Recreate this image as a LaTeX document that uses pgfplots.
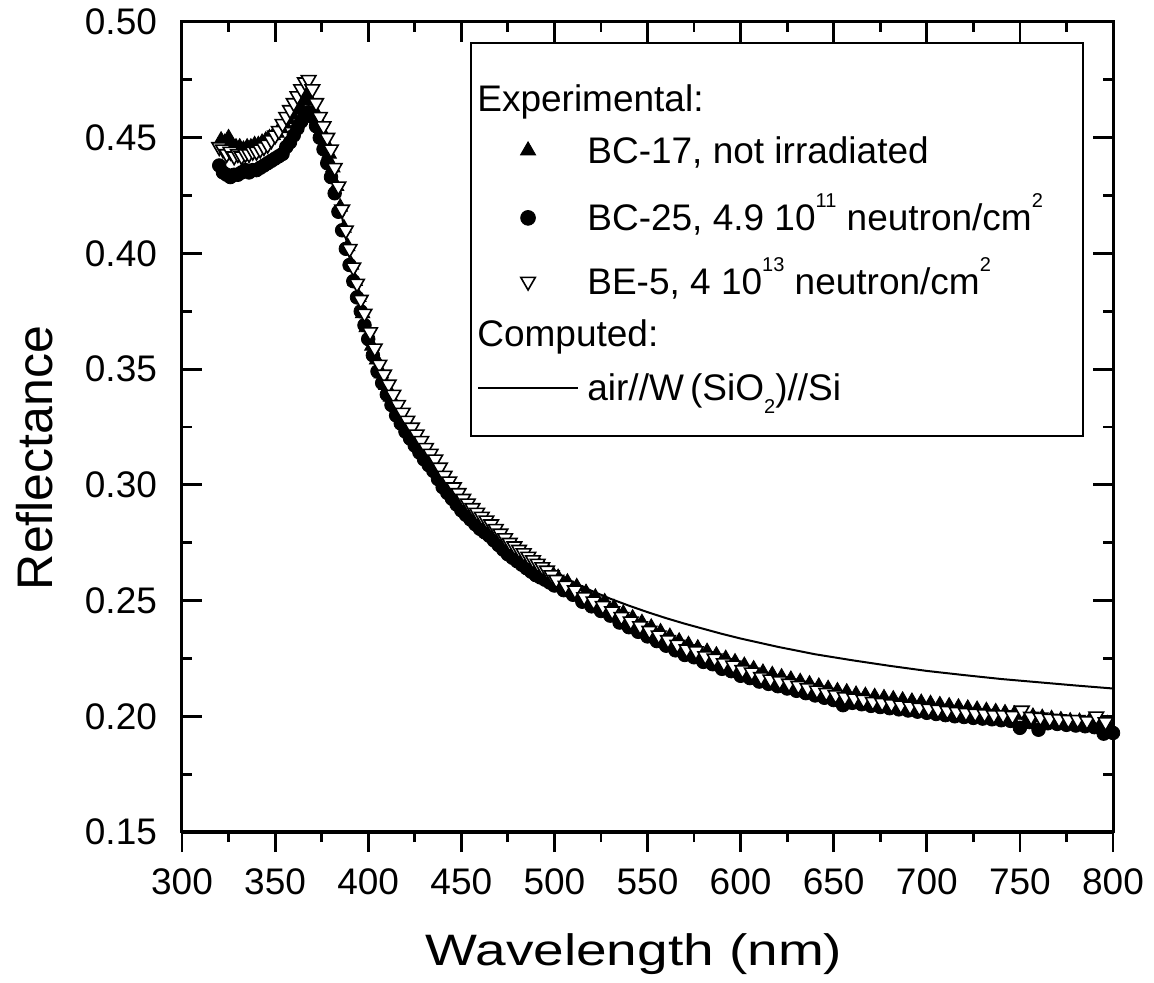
\documentclass[border=0pt]{standalone}
\usepackage{fontspec}
\setmainfont{Liberation Sans}
\usepackage{pgfplots}
\pgfplotsset{compat=1.18}
\usepackage{pgfplotstable}

% BC-25, 4.9e11 neutron/cm2 (filled circles)
\pgfplotstableread{
x y
320 0.438
322 0.435
324 0.434
326 0.433
328 0.434
330 0.434
332 0.435
334 0.436
336 0.435
338 0.436
340 0.436
342 0.437
344 0.438
346 0.439
348 0.440
350 0.441
352 0.442
354 0.443
356 0.446
358 0.448
360 0.451
362 0.454
364 0.457
366 0.460
368 0.461
370 0.459
372 0.455
374 0.450
376 0.445
378 0.439
380 0.433
382 0.426
384 0.418
386 0.410
388 0.402
390 0.395
392 0.388
394 0.381
396 0.375
398 0.369
400 0.363
402.5 0.356
405 0.349
407.5 0.344
410 0.339
412.5 0.3345
415 0.330
417.5 0.3265
420 0.323
422.5 0.320
425 0.317
427.5 0.314
430 0.311
432.5 0.3085
435 0.306
437.5 0.3025
440 0.299
442.5 0.2965
445 0.294
447.5 0.2915
450 0.289
452.5 0.287
455 0.285
457.5 0.283
460 0.281
462.5 0.2795
465 0.278
467.5 0.276
470 0.274
472.5 0.272
475 0.270
477.5 0.2685
480 0.267
482.5 0.2655
485 0.264
487.5 0.2625
490 0.261
492.5 0.260
495 0.259
497.5 0.2578
500 0.2565
505 0.2545
510 0.2525
515 0.2495
520 0.2475
525 0.2455
530 0.2435
535 0.2405
540 0.2385
545 0.2365
550 0.2345
555 0.2325
560 0.2305
565 0.2285
570 0.2265
575 0.2255
580 0.2235
585 0.2225
590 0.2205
595 0.2195
600 0.2175
605 0.2165
610 0.2150
615 0.2140
620 0.2130
625 0.2120
630 0.2110
635 0.2100
640 0.2090
645 0.2080
650 0.2070
655 0.2048
660 0.2058
665 0.2052
670 0.2045
675 0.2040
680 0.2035
685 0.2030
690 0.2025
695 0.2020
700 0.2015
705 0.2010
710 0.2005
715 0.2000
720 0.1997
725 0.1993
730 0.1990
735 0.1987
740 0.1983
745 0.1980
750 0.1950
755 0.1975
760 0.1942
765 0.1970
770 0.1967
775 0.1963
780 0.1960
785 0.1957
790 0.1953
795 0.1925
800 0.1928
}\bctwentyfive

% BC-17, not irradiated (filled triangles)
\pgfplotstableread{
x y
321 0.449
323 0.448
325 0.450
327 0.447
329 0.446
331 0.446
333 0.445
335 0.446
337 0.446
339 0.447
341 0.447
343 0.448
345 0.449
347 0.450
349 0.451
351 0.452
353 0.454
355 0.456
357 0.458
359 0.460
361 0.462
363 0.464
365 0.466
367 0.468
369 0.466
371 0.462
373 0.458
375 0.453
377 0.448
379 0.443
381 0.437
383 0.429
385 0.420
387 0.411
389 0.403
391 0.395
393 0.388
395 0.381
397 0.374
399 0.368
402 0.360
404.5 0.354
407 0.348
409.5 0.343
412 0.338
414.5 0.3345
417 0.331
419.5 0.3275
422 0.324
424.5 0.321
427 0.318
429.5 0.3155
432 0.313
434.5 0.310
437 0.307
439.5 0.304
442 0.301
444.5 0.2985
447 0.296
449.5 0.2935
452 0.291
454.5 0.289
457 0.287
459.5 0.2855
462 0.284
464.5 0.282
467 0.280
469.5 0.2785
472 0.277
474.5 0.275
477 0.273
479.5 0.2715
482 0.270
484.5 0.2685
487 0.267
489.5 0.266
492 0.265
494.5 0.2635
497 0.262
499.5 0.261
502 0.260
507 0.258
512 0.256
517 0.2535
522 0.2515
527 0.2495
532 0.2470
537 0.2445
542 0.2425
547 0.2405
552 0.2385
557 0.2365
562 0.2345
567 0.2325
572 0.2310
577 0.2295
582 0.2280
587 0.2265
592 0.2250
597 0.2235
602 0.2220
607 0.2205
612 0.2190
617 0.2180
622 0.2170
627 0.2160
632 0.2150
637 0.2140
642 0.2130
647 0.2120
652 0.2110
657 0.2105
662 0.2095
667 0.2090
672 0.2085
677 0.2080
682 0.2075
687 0.2070
692 0.2065
697 0.2060
702 0.2055
707 0.2050
712 0.2045
717 0.2040
722 0.2035
727 0.2030
732 0.2025
737 0.2020
742 0.2015
747 0.2010
752 0.2005
757 0.2000
762 0.1995
767 0.1990
772 0.1985
777 0.1980
782 0.1978
787 0.1975
792 0.1972
797 0.1968
}\bcseventeen

% BE-5, 4e13 neutron/cm2 (open inverted triangles)
\pgfplotstableread{
x y
320 0.446
322 0.445
324 0.443
326 0.444
328 0.442
330 0.443
332 0.442
334 0.443
336 0.443
338 0.444
340 0.444
342 0.445
344 0.446
346 0.447
348 0.449
350 0.451
352 0.453
354 0.456
356 0.459
358 0.462
360 0.465
362 0.468
364 0.471
366 0.474
368 0.475
370 0.471
372 0.465
374 0.459
376 0.455
378 0.450
380 0.445
382 0.437
384 0.429
386 0.419
388 0.410
390 0.402
392 0.394
394 0.387
396 0.380
398 0.374
401 0.366
403.5 0.359
406 0.352
408.5 0.3477
411 0.3434
413.5 0.339
416 0.3346
418.5 0.3312
421 0.3278
423.5 0.3248
426 0.3218
428.5 0.319
431 0.316
433.5 0.3135
436 0.311
438.5 0.3075
441 0.304
443.5 0.3015
446 0.299
448.5 0.2965
451 0.294
453.5 0.292
456 0.290
458.5 0.288
461 0.2863
463.5 0.2847
466 0.283
468.5 0.281
471 0.279
473.5 0.277
476 0.275
478.5 0.2735
481 0.272
483.5 0.2705
486 0.269
488.5 0.2675
491 0.266
493.5 0.2645
496 0.263
498.5 0.261
501 0.259
506 0.2565
511 0.2545
516 0.2515
521 0.2497
526 0.2477
531 0.2454
536 0.2430
541 0.2410
546 0.2390
551 0.2370
556 0.2350
561 0.2330
566 0.2310
571 0.2290
576 0.2282
581 0.2260
586 0.2250
591 0.2230
596 0.2220
601 0.2200
606 0.2190
611 0.2170
616 0.2160
621 0.2152
626 0.2142
631 0.2132
636 0.2122
641 0.2112
646 0.2102
651 0.2092
656 0.2083
661 0.2078
666 0.2072
671 0.2063
676 0.2058
681 0.2053
686 0.2048
691 0.2043
696 0.2038
701 0.2034
706 0.2029
711 0.2024
716 0.2020
721 0.2015
726 0.2012
731 0.2010
736 0.2005
741 0.2005
746 0.2002
751 0.2025
756 0.1998
761 0.1995
766 0.1990
771 0.1988
776 0.1985
781 0.1985
786 0.1980
791 0.2000
796 0.1975
}\befive

% Computed: air//W(SiO2)//Si
\pgfplotstableread{
x y
385 0.420
390 0.398
395 0.381
400 0.366
405 0.353
410 0.343
415 0.334
420 0.326
430 0.313
440 0.302
450 0.293
460 0.285
470 0.278
480 0.272
490 0.267
500 0.2625
510 0.2580
520 0.2542
530 0.2508
540 0.2478
550 0.2450
560 0.2424
570 0.2400
580 0.2378
590 0.2356
600 0.2336
620 0.2300
640 0.2268
660 0.2242
680 0.2218
700 0.2196
720 0.2178
740 0.2161
760 0.2147
780 0.2133
800 0.2120
}\computed

\pgfplotsset{
  common/.style={
    scale only axis, width=465.5pt, height=405pt,
    xmin=300, xmax=800, ymin=0.15, ymax=0.50,
    xtick={300,350,400,450,500,550,600,650,700,750,800},
    minor x tick num=1,
    major tick length=10pt, minor tick length=5pt,
    major tick style={line width=1.4pt, black},
    minor tick style={line width=1.4pt, black},
    axis line style={line width=1.5pt},
    tick label style={font=\fontsize{18.5}{22}\selectfont},
    /pgf/number format/assume math mode=true,
  },
}
\newcommand{\supr}[1]{\raisebox{11.5pt}{\fontsize{10}{10}\selectfont #1}}
\newcommand{\subr}[1]{\raisebox{-6.5pt}{\fontsize{10}{10}\selectfont #1}}

\begin{document}
\begin{tikzpicture}
\begin{axis}[common,
  tick align=inside,
  xtick pos=right, xticklabels={},
  ytick={0.15,0.2,0.25,0.3,0.35,0.4,0.45,0.5},
  minor y tick num=1,
  ytick pos=both, yticklabel pos=left,
  yticklabel style={/pgf/number format/fixed, /pgf/number format/fixed zerofill,
    /pgf/number format/precision=2, xshift=-9pt},
  ylabel={Reflectance},
  ylabel style={font=\fontsize{25}{30}\selectfont, at={(rel axis cs:-0.1396,0.4617)}, anchor=base},
  legend style={draw=none, fill=none, at={(rel axis cs:0.3165,0.9389)}, anchor=north west,
    inner xsep=0pt, inner ysep=0pt, row sep=0pt, column sep=4.15pt,
    font=\fontsize{18.5}{22}\selectfont,
    cells={anchor=base west},
    nodes={inner sep=0pt, anchor=base west, text depth=, text height=}},
]
\addplot[only marks, mark=*, mark size=3.4pt, black, forget plot] table[x=x,y=y] {\bctwentyfive};
\addplot[only marks, mark=triangle*, mark size=4.2pt, black, forget plot] table[x=x,y=y] {\bcseventeen};
\addplot[only marks, mark=triangle*, mark size=4.2pt, black,
  mark options={rotate=180, fill=white, draw=black, line width=0.8pt}, forget plot] table[x=x,y=y] {\befive};
\addplot[black, line width=1pt, forget plot] table[x=x,y=y] {\computed};

\addlegendimage{empty legend}
\addlegendentry{\hspace*{-55pt}\rule[-5pt]{0pt}{25pt}Experimental:}
\addlegendimage{only marks, legend image code/.code={\path[draw=none] (0pt,6.5pt) -- (50pt,6.5pt);
  \path[draw=none, fill=none, mark=triangle*, mark size=4.4pt, mark options={fill=black, draw=black}] plot coordinates {(25pt,6.5pt)};}}
\addlegendentry{\rule[-5pt]{0pt}{25.85pt}BC-17, not irradiated}
\addlegendimage{only marks, legend image code/.code={\path[draw=none] (0pt,6.5pt) -- (50pt,6.5pt);
  \path[draw=none, fill=none, mark=*, mark size=3.7pt, mark options={fill=black, draw=black}] plot coordinates {(25pt,6.5pt)};}}
\addlegendentry{\rule[-5pt]{0pt}{33.65pt}BC-25, 4.9 10\supr{11} neutron/cm\supr{2}}
\addlegendimage{only marks, legend image code/.code={\path[draw=none] (0pt,6.5pt) -- (50pt,6.5pt);
  \path[draw=none, fill=none, mark=triangle*, mark size=4.2pt, mark options={rotate=180, fill=white, draw=black, line width=0.8pt}] plot coordinates {(25pt,6.5pt)};}}
\addlegendentry{\rule[-5pt]{0pt}{31.85pt}BE-5, 4 10\supr{13} neutron/cm\supr{2}}
\addlegendimage{empty legend}
\addlegendentry{\hspace*{-55pt}\rule[-5pt]{0pt}{26.15pt}Computed:}
\addlegendimage{legend image code/.code={\draw[black, line width=1pt] (0pt,6.5pt) -- (50pt,6.5pt);}}
\addlegendentry{\rule[-5pt]{0pt}{27pt}air//W\,(SiO\subr{2})//Si}

\draw[line width=1.2pt] (rel axis cs:0.3104,0.4889) rectangle (rel axis cs:0.9678,0.9737);
\end{axis}
\begin{axis}[common,
  axis x line*=bottom, axis y line=none,
  tick align=outside,
  xticklabel style={yshift=-5pt},
  xlabel={\scalebox{1.25}[1]{Wavelength (nm)}},
  xlabel style={font=\fontsize{22}{26}\selectfont, at={(rel axis cs:0.4855,-0.1642)}, anchor=base},
]
\end{axis}
\path ([shift={(-91pt,-75.5pt)}]current axis.south west) rectangle ([shift={(20.5pt,11pt)}]current axis.north east);
\end{tikzpicture}
\end{document}
